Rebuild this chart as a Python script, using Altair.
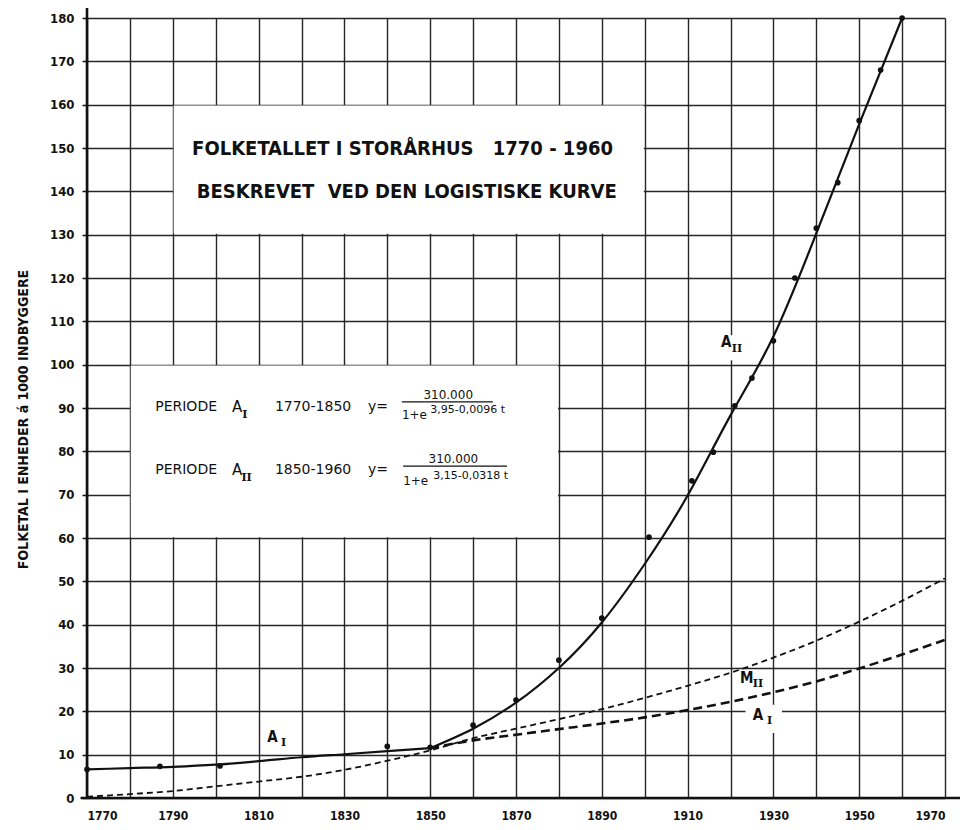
import altair as alt
import pandas as pd

# ---------------- data ----------------
# observed population (thousands)
obs_year = [1770, 1787, 1801, 1840, 1850, 1860, 1870, 1880, 1890, 1901, 1911,
            1916, 1921, 1925, 1930, 1935, 1940, 1945, 1950, 1955, 1960]
obs_pop = [6.6, 7.3, 7.4, 11.9, 11.7, 16.8, 22.6, 31.8, 41.5, 60.2, 73.2,
           79.8, 90.5, 96.9, 105.5, 120.0, 131.5, 142.0, 156.3, 168.0, 180.0]

# solid fitted curve A_I, 1770-1850
ai_year = [1770, 1780, 1790, 1800, 1810, 1820, 1830, 1840, 1850]
ai_pop = [6.6, 6.9, 7.2, 7.7, 8.5, 9.4, 10.1, 10.8, 11.5]

# solid fitted curve A_II, 1850-1960
aii_year = [1850, 1860, 1870, 1880, 1890, 1900, 1910, 1920, 1930, 1940, 1950, 1960]
aii_pop = [11.5, 16.0, 22.0, 30.0, 40.5, 54.0, 69.8, 88.3, 106.5, 130.3, 155.5, 180.0]

# dashed curve M_II
m2_year = [1770, 1780, 1790, 1800, 1810, 1820, 1830, 1840, 1850, 1860, 1870,
           1880, 1890, 1900, 1910, 1920, 1930, 1940, 1950, 1960, 1970]
m2_pop = [0.3, 0.9, 1.6, 2.7, 3.8, 4.9, 6.5, 8.6, 11.0, 13.8, 16.0,
          18.2, 20.5, 23.1, 25.9, 28.9, 32.4, 36.3, 40.7, 45.5, 50.7]

# dashed extension of A_I
a1_year = [1850, 1860, 1870, 1880, 1890, 1900, 1910, 1920, 1930, 1940, 1950, 1960, 1970]
a1_pop = [11.5, 13.3, 14.6, 15.9, 17.2, 18.6, 20.3, 22.2, 24.4, 26.9, 29.9, 33.1, 36.5]

# white boxes behind the texts (grid is interrupted there)
box_x = [1790.2, 1780.2, 1923.5, 1917.6]
box_x2 = [1899.8, 1879.8, 1932.0, 1924.2]
box_y = [130.2, 60.2, 15.0, 101.0]
box_y2 = [159.8, 99.8, 21.5, 106.8]

# title texts
title_texts = ["FOLKETALLET I STORÅRHUS", "1770 - 1960", "BESKREVET", "VED DEN LOGISTISKE KURVE"]
title_x = [1794.5, 1892.6, 1795.6, 1893.5]
title_y = [149.7, 149.7, 139.9, 139.9]
title_align = ["left", "right", "left", "right"]

# formula texts
form_texts = ["PERIODE", "A", "1770-1850", "y=", "1+e", "3,95-0,0096 t",
              "PERIODE", "A", "1850-1960", "y=", "1+e", "3,15-0,0318 t"]
form_x = [1785.9, 1803.8, 1813.8, 1835.5, 1843.4, 1850.0,
          1785.9, 1803.8, 1813.8, 1835.5, 1843.7, 1850.7]
form_y = [90.2, 90.2, 90.2, 90.2, 88.3, 89.5,
          75.7, 75.7, 75.7, 75.7, 73.1, 74.2]
form_size = [14, 15, 14, 14, 12, 11,
             14, 15, 14, 14, 12, 11]

num_texts = ["310.000", "310.000"]
num_x = [1854.2, 1855.4]
num_y = [93.1, 78.3]
frac_x = [1843.4, 1843.7]
frac_x2 = [1864.6, 1867.9]
frac_y = [91.4, 76.6]

# roman subscripts (formula + curve labels)
sub_texts = ["I", "II", "I", "II", "II", "I"]
sub_x = [1806.2, 1806.0, 1815.2, 1920.3, 1925.2, 1928.5]
sub_y = [88.3, 73.8, 12.7, 103.6, 26.3, 17.8]
sub_size = [11, 11, 11, 11, 11, 11]

# curve labels
lab_texts = ["A", "A", "M", "A"]
lab_x = [1812.0, 1917.8, 1922.2, 1925.2]
lab_y = [14.0, 105.2, 27.7, 19.2]
lab_size = [15, 15, 15, 15]

# axis lines (slightly extended like in the drawing)
axis_x = [1770, 1768.5]
axis_x2 = [1770, 1973.5]
axis_y = [0, 0]
axis_y2 = [182.5, 0]

FONT = "DejaVu Sans Condensed, DejaVu Sans"
FONT_F = "DejaVu Sans"
FONT_S = "DejaVu Serif"

xs = alt.Scale(domain=[1770, 1970], nice=False, zero=False)
ys = alt.Scale(domain=[0, 180], nice=False, zero=True)

x_axis = alt.Axis(values=list(range(1770, 1971, 10)), format="d",
                  labelExpr="(datum.value - 1770) % 20 == 0 ? datum.label : ''",
                  grid=True, gridColor="#262626", gridWidth=1.4, gridOpacity=1,
                  domain=False, ticks=False, labelPadding=12,
                  labelFont=FONT, labelFontSize=12, labelFontWeight="bold",
                  labelColor="#111", title=None)
y_axis = alt.Axis(values=list(range(0, 181, 10)), grid=True, gridColor="#262626",
                  gridWidth=1.4, gridOpacity=1, domain=False, ticks=True,
                  tickSize=5, tickWidth=1.5, tickColor="#111", labelPadding=8,
                  labelFont=FONT, labelFontSize=13, labelFontWeight="bold",
                  labelColor="#111",
                  title="FOLKETAL I ENHEDER á 1000 INDBYGGERE",
                  titleFont=FONT, titleFontSize=14, titleFontWeight="bold",
                  titleColor="#111", titleAngle=270, titleX=-64, titleY=401,
                  titleAlign="center", titleBaseline="middle")

boxes = pd.DataFrame({"x": box_x, "x2": box_x2, "y": box_y, "y2": box_y2})
box_layer = alt.Chart(boxes).mark_rect(color="white", opacity=1).encode(
    x=alt.X("x:Q", scale=xs, axis=x_axis),
    x2="x2:Q",
    y=alt.Y("y:Q", scale=ys, axis=y_axis),
    y2="y2:Q",
)

axes_df = pd.DataFrame({"x": axis_x, "x2": axis_x2, "y": axis_y, "y2": axis_y2})
axis_layer = alt.Chart(axes_df).mark_rule(color="#111", strokeWidth=2.6).encode(
    x=alt.X("x:Q", scale=xs), x2="x2:Q", y=alt.Y("y:Q", scale=ys), y2="y2:Q")


def line_layer(xv, yv, width, dash=None, interp="monotone"):
    df = pd.DataFrame({"year": xv, "pop": yv})
    kw = dict(color="#111", strokeWidth=width, interpolate=interp)
    if dash:
        kw["strokeDash"] = dash
    return alt.Chart(df).mark_line(**kw).encode(
        x=alt.X("year:Q", scale=xs), y=alt.Y("pop:Q", scale=ys))


ai_layer = line_layer(ai_year, ai_pop, 2.2)
aii_layer = line_layer(aii_year, aii_pop, 2.2, interp="natural")
m2_layer = line_layer(m2_year, m2_pop, 1.8, dash=[6, 4])
a1_layer = line_layer(a1_year, a1_pop, 2.6, dash=[9, 5])

obs_df = pd.DataFrame({"year": obs_year, "pop": obs_pop})
obs_layer = alt.Chart(obs_df).mark_point(filled=True, color="#111", size=32,
                                         shape="circle", opacity=1).encode(
    x=alt.X("year:Q", scale=xs), y=alt.Y("pop:Q", scale=ys))


def text_layer(texts, xv, yv, sizes, align, weight, font):
    df = pd.DataFrame({"t": texts, "x": xv, "y": yv, "s": sizes})
    return alt.Chart(df).mark_text(align=align, baseline="middle", font=font,
                                   fontWeight=weight, color="#111").encode(
        x=alt.X("x:Q", scale=xs), y=alt.Y("y:Q", scale=ys), text="t:N",
        size=alt.Size("s:Q", scale=None, legend=None))


tl = [i for i, a in enumerate(title_align) if a == "left"]
tr = [i for i, a in enumerate(title_align) if a == "right"]
title_left = text_layer([title_texts[i] for i in tl], [title_x[i] for i in tl],
                        [title_y[i] for i in tl], [20] * len(tl), "left", "bold", FONT)
title_right = text_layer([title_texts[i] for i in tr], [title_x[i] for i in tr],
                         [title_y[i] for i in tr], [20] * len(tr), "right", "bold", FONT)
form_layer = text_layer(form_texts, form_x, form_y, form_size, "left", "normal", FONT_F)
num_layer = text_layer(num_texts, num_x, num_y, [12, 12], "center", "normal", FONT_F)
sub_layer = text_layer(sub_texts, sub_x, sub_y, sub_size, "left", "bold", FONT_S)
lab_layer = text_layer(lab_texts, lab_x, lab_y, lab_size, "left", "bold", FONT)

frac_df = pd.DataFrame({"x": frac_x, "x2": frac_x2, "y": frac_y})
frac_layer = alt.Chart(frac_df).mark_rule(color="#111", strokeWidth=1.2).encode(
    x=alt.X("x:Q", scale=xs), x2="x2:Q", y=alt.Y("y:Q", scale=ys))

chart = alt.layer(
    box_layer, axis_layer, m2_layer, a1_layer, ai_layer, aii_layer, obs_layer,
    title_left, title_right, form_layer, num_layer, frac_layer, sub_layer, lab_layer,
).properties(
    width=858, height=780,
    autosize=alt.AutoSizeParams(type="none"),
    padding={"left": 79, "top": 10, "right": 19, "bottom": 24},
    background="white",
).configure_view(stroke=None)

chart.save("out.html", embed_options={"renderer": "svg", "actions": False})
